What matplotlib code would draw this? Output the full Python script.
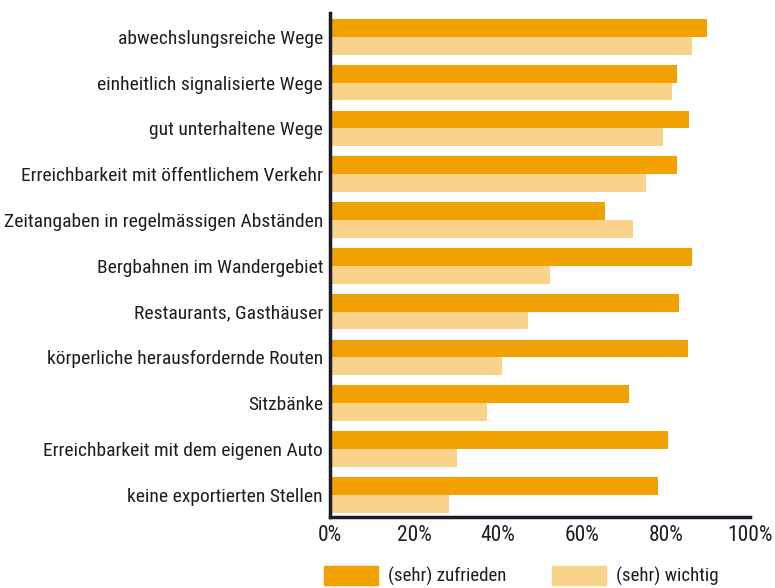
import os
import matplotlib
matplotlib.use("Agg")
import matplotlib.pyplot as plt
import numpy as np
from matplotlib import font_manager
from matplotlib.patches import Patch

# schmale Schrift suchen (Referenz nutzt eine Condensed-Sans)
kandidaten = [
    "LiberationSansNarrow-Regular.ttf",
    "RobotoCondensed-Regular.ttf",
    "DejaVuSansCondensed.ttf",
    "NotoSans-Condensed.ttf",
    "NotoSans-CondensedRegular.ttf",
    "OpenSans-CondensedRegular.ttf",
    "OpenSans_Condensed-Regular.ttf",
]
dateien = {os.path.basename(f): f for f in font_manager.findSystemFonts()}
schrift_datei = None
for k in kandidaten:
    if k in dateien:
        schrift_datei = dateien[k]
        break
if schrift_datei:
    myfont = font_manager.FontProperties(fname=schrift_datei)
    f_label, f_tick, f_leg = 14, 15.5, 13.6
else:
    myfont = font_manager.FontProperties(family="DejaVu Sans")
    f_label, f_tick, f_leg = 10.5, 12, 11

kategorien = [
    "abwechslungsreiche Wege",
    "einheitlich signalisierte Wege",
    "gut unterhaltene Wege",
    "Erreichbarkeit mit öffentlichem Verkehr",
    "Zeitangaben in regelmässigen Abständen",
    "Bergbahnen im Wandergebiet",
    "Restaurants, Gasthäuser",
    "körperliche herausfordernde Routen",
    "Sitzbänke",
    "Erreichbarkeit mit dem eigenen Auto",
    "keine exportierten Stellen",
]
zufrieden = [89.8, 82.7, 85.6, 82.7, 65.4, 86.3, 83.2, 85.3, 71.3, 80.6, 78.0]
wichtig = [86.3, 81.5, 79.2, 75.2, 72.1, 52.4, 47.1, 40.9, 37.5, 30.2, 28.3]
xticks = [0, 20, 40, 60, 80, 100]

dunkel = "#F2A200"
hell = "#F9D28C"
textfarbe = "#1e1e1e"

fig = plt.figure(figsize=(7.75, 5.88), dpi=100)
ax = fig.add_axes([0.4258, 0.121, 0.5419, 0.857])

y = np.arange(len(kategorien))
h = 0.39
ax.barh(y - h / 2, zufrieden, height=h, color=dunkel)
ax.barh(y + h / 2, wichtig, height=h, color=hell)

ax.set_xlim(0, 100)
ax.set_ylim(10.48, -0.52)
ax.set_yticks(y)
ax.set_yticklabels(kategorien, fontproperties=myfont, fontsize=f_label, color=textfarbe)
ax.set_xticks(xticks)
ax.set_xticklabels([f"{v}%" for v in xticks], fontproperties=myfont,
                   fontsize=f_tick, color=textfarbe)
ax.tick_params(length=0, pad=5)
ax.tick_params(axis="x", pad=6)

for s in ["top", "right"]:
    ax.spines[s].set_visible(False)
for s in ["left", "bottom"]:
    ax.spines[s].set_linewidth(2.5)
    ax.spines[s].set_color("#1c1c28")

# Legende: zwei Einträge, jeweils fest verankert
lg_font = myfont.copy()
lg_font.set_size(f_leg)
em = f_leg * 100 / 72
for farbe, text, x0 in [(dunkel, "(sehr) zufrieden", 324), (hell, "(sehr) wichtig", 552)]:
    fig.legend(handles=[Patch(color=farbe, label=text)], loc="upper left",
               bbox_to_anchor=(x0 / 775, 1 - 566 / 588), frameon=False,
               prop=lg_font, borderpad=0, borderaxespad=0,
               handlelength=54 / em, handleheight=22 / em,
               handletextpad=10 / em, labelcolor=textfarbe)

fig.savefig("out.png", dpi=100)
